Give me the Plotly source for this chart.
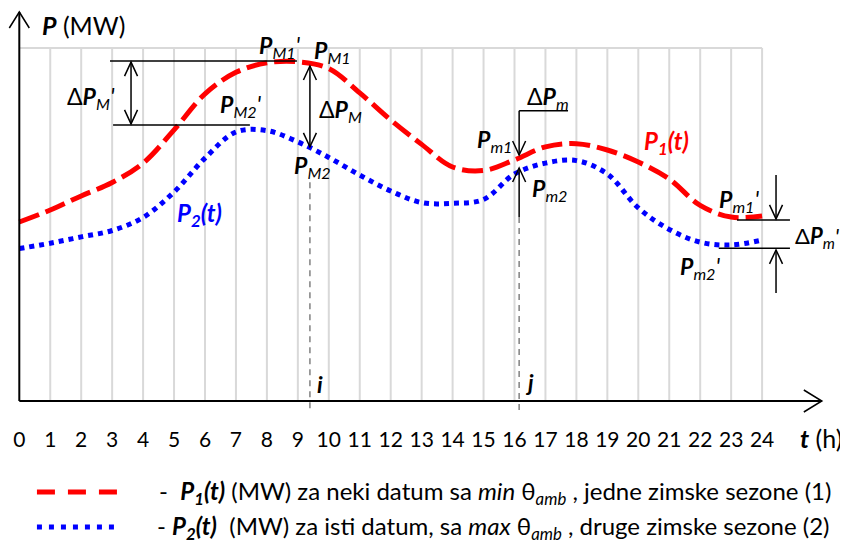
import plotly.graph_objects as go

# ---------------- data ----------------
hours = list(range(25))
hour_labels = [str(h) for h in hours]
# P1(t): red dashed curve (MW, schematic units)
p1 = [50.7, 54.1, 58.1, 61.9, 67.4, 76.8, 87.0, 93.1, 95.8, 96.1, 94.2, 87.3, 79.6,
      72.7, 66.3, 65.3, 68.3, 72.0, 72.9, 71.1, 67.7, 62.9, 55.4, 52.1, 52.4]
# P2(t): blue dotted curve
p2 = [43.2, 44.7, 46.5, 48.3, 52.0, 59.2, 68.8, 76.2, 76.6, 73.4, 69.0, 64.0, 59.5,
      56.2, 56.0, 57.1, 64.3, 67.4, 68.1, 64.3, 54.7, 48.6, 45.0, 44.2, 45.6]

# ---------------- layout constants ----------------
W, H = 848, 541
SX = 30.95          # px per hour
SY = 3.53           # px per unit
OFF = 8             # page body margin compensation
X0_PX = 19.3 - OFF  # pixel of hour 0 inside the figure
Y0_PX = 401 - OFF   # pixel of P = 0 inside the figure
X_RANGE = [-X0_PX / SX, (W - X0_PX) / SX]
Y_RANGE = [-(H - Y0_PX) / SY, Y0_PX / SY]
FONT = "Lato"
RED = "#FF0000"
BLUE = "#0000FF"
GRID = "#D9D9D9"
NB = "\u00a0"

fig = go.Figure()
fig.add_trace(go.Scatter(x=hours, y=p1, mode="lines", name="P1(t)",
                         line=dict(color=RED, width=5, dash="21px,7px", shape="spline")))
fig.add_trace(go.Scatter(x=hours, y=p2, mode="lines", name="P2(t)",
                         line=dict(color=BLUE, width=5, dash="5px,5px", shape="spline")))

shapes = []
annotations = []


def line(x0, y0, x1, y1, color="black", width=1.5, dash="solid", layer="above"):
    shapes.append(dict(type="line", xref="x", yref="y", x0=x0, y0=y0, x1=x1, y1=y1,
                       line=dict(color=color, width=width, dash=dash), layer=layer))


def head(xt, yt, direction, arm=6.5, length=14, width=1.5):
    ax, ay = arm / SX, arm / SY
    lx, ly = length / SX, length / SY
    if direction == "up":
        p = f"M{xt-ax},{yt-ly} L{xt},{yt} L{xt+ax},{yt-ly}"
    elif direction == "down":
        p = f"M{xt-ax},{yt+ly} L{xt},{yt} L{xt+ax},{yt+ly}"
    else:  # right
        p = f"M{xt-lx},{yt+ay} L{xt},{yt} L{xt-lx},{yt-ay}"
    shapes.append(dict(type="path", xref="x", yref="y", path=p,
                       line=dict(color="black", width=width)))


def label(x, y, text, size=23, color="black", xanchor="left"):
    annotations.append(dict(x=x, y=y, xref="x", yref="y", text=text, showarrow=False,
                            xanchor=xanchor, yanchor="middle",
                            font=dict(family=FONT, size=size, color=color)))


# grid
for h in hours[1:]:
    line(h, 0, h, 100, color=GRID, width=2, layer="below")
line(0, 100, 24, 100, color=GRID, width=2, layer="below")

# axes with arrows
line(0, 0, 0, 110.2, width=2)
line(0, 0, 25.93, 0, width=2)
head(0, 110.2, "up", arm=10, length=16, width=1.5)
head(25.93, 0, "right", arm=11, length=18, width=1.5)

# dashed helper verticals
line(9.39, 62.0, 9.39, -2.6, color="#808080", width=1.5, dash="6px,5px")
line(16.15, 52.1, 16.15, -2.6, color="#808080", width=1.5, dash="6px,5px")

# Delta PM'
line(2.93, 96.3, 8.97, 96.3)
line(3.03, 78.2, 7.45, 78.2)
line(3.61, 96.0, 3.61, 78.5)
head(3.61, 96.0, "up")
head(3.61, 78.5, "down")

# Delta PM
line(9.39, 94.9, 9.39, 72.0)
head(9.39, 94.9, "up")
head(9.39, 72.0, "down")

# Delta Pm
line(17.73, 82.2, 16.15, 82.2)
line(16.15, 82.2, 16.15, 69.7)
head(16.15, 69.7, "down")
line(16.15, 52.1, 16.15, 66.0)
head(16.15, 66.0, "up")

# Delta Pm'
line(24.45, 64.0, 24.45, 51.6)
head(24.45, 51.6, "down")
line(23.19, 51.3, 24.9, 51.3)
line(22.6, 43.3, 24.9, 43.3)
line(24.45, 30.6, 24.45, 42.8)
head(24.45, 42.8, "up")

# labels
BP = "<b><i>P</i></b>"
label(0.67, 106.5, BP + " (MW)", size=25)
label(25.16, -10.5, "<b><i>t</i></b> (h)", size=25)
label(7.68, 100.3, BP + "<sub><i>M1</i></sub><i>'</i>")
label(9.46, 98.9, BP + "<sub><i>M1</i></sub>")
label(1.48, 86.1, "Δ" + BP + "<sub><i>M</i></sub><i>'</i>")
label(6.42, 83.6, BP + "<sub><i>M2</i></sub><i>'</i>")
label(9.62, 82.4, "Δ" + BP + "<sub><i>M</i></sub>")
label(8.81, 66.3, BP + "<sub><i>M2</i></sub>")
label(5.03, 52.7, "<b><i>P<sub>2</sub>(t)</i></b>", size=24, color=BLUE)
label(9.55, 4.8, "<b><i>i</i></b>")
label(16.27, 5.4, "<b><i>j</i></b>")
label(16.34, 86.1, "Δ" + BP + "<sub><i>m</i></sub>")
label(14.72, 73.7, BP + "<sub><i>m1</i></sub>")
label(16.5, 59.8, BP + "<sub><i>m2</i></sub>")
label(20.12, 73.1, "<b><i>P<sub>1</sub>(t)</i></b>", size=24, color=RED)
label(22.54, 56.9, BP + "<sub><i>m1</i></sub><i>'</i>")
label(25.0, 46.5, "Δ" + BP + "<sub><i>m</i></sub><i>'</i>", size=22)
label(21.28, 37.7, BP + "<sub><i>m2</i></sub><i>'</i>")

# custom legend
line(0.57, -25.8, 3.25, -25.8, color=RED, width=5, dash="18px,13px")
line(0.57, -35.7, 3.25, -35.7, color=BLUE, width=5, dash="5px,7px")
label(4.45, -25.8, "-" + NB + NB + "<b><i>P<sub>1</sub>(t)</i></b> (MW) za neki datum sa <i>min</i> θ<sub><i>amb</i></sub> , jedne zimske sezone (1)", size=24)
label(4.38, -35.7, "- <b><i>P<sub>2</sub>(t)</i></b>" + NB + NB + "(MW) za isti datum, sa <i>max</i> θ<sub><i>amb</i></sub> , druge zimske sezone (2)", size=24)

fig.update_layout(
    width=W, height=H,
    margin=dict(l=0, r=0, t=0, b=0),
    paper_bgcolor="white", plot_bgcolor="white",
    showlegend=False,
    shapes=shapes, annotations=annotations,
    xaxis=dict(range=X_RANGE, showgrid=False, zeroline=False, showline=False,
               tickmode="array", tickvals=hours, ticktext=hour_labels, ticks="",
               anchor="free", position=(H - Y0_PX) / H, ticklabelstandoff=24,
               tickfont=dict(family=FONT, size=21, color="black"), fixedrange=True),
    yaxis=dict(range=Y_RANGE, visible=False, fixedrange=True),
    font=dict(family=FONT),
)

fig.write_html("out.html")
